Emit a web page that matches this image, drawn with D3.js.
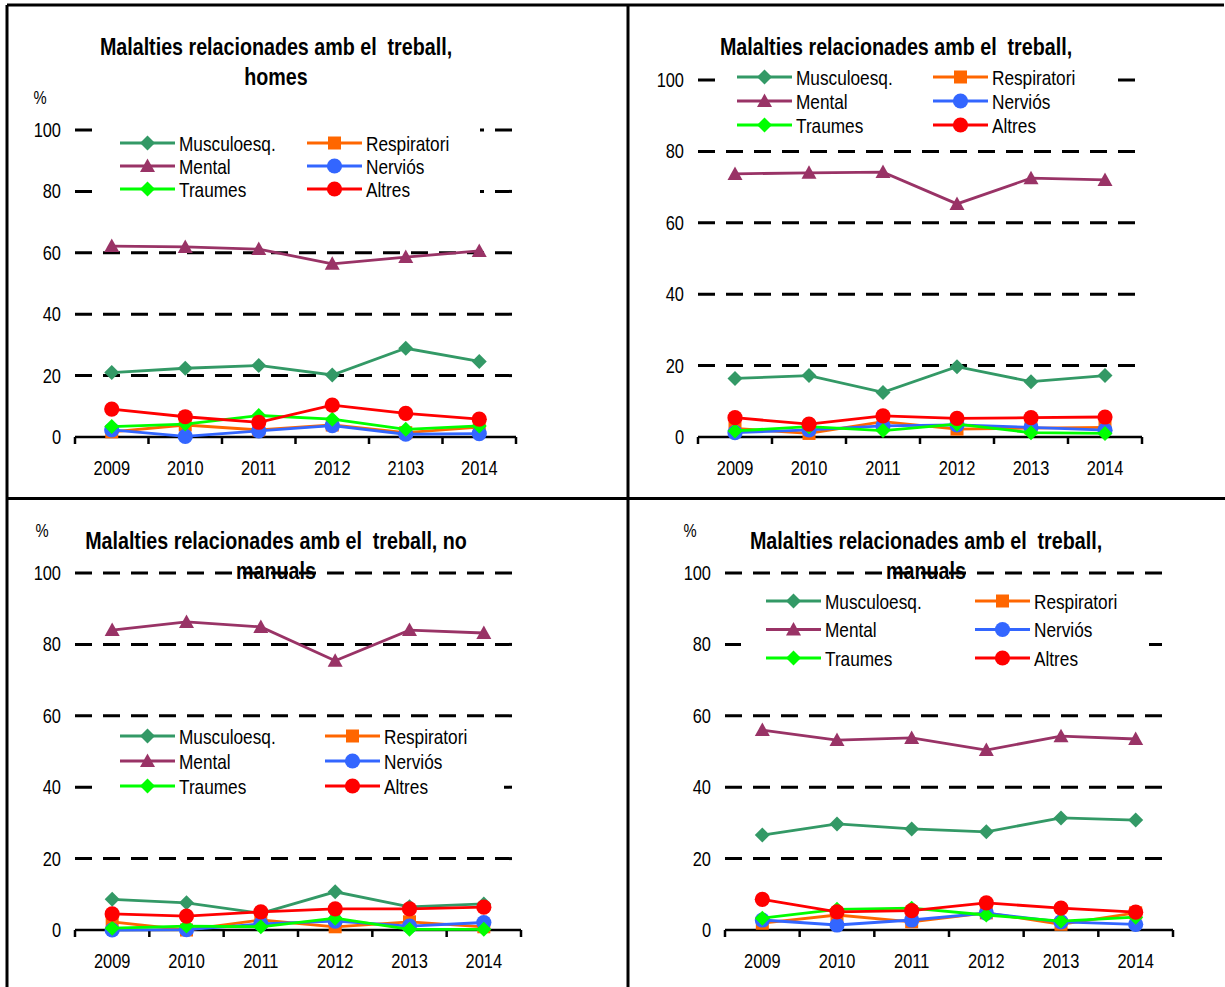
<!DOCTYPE html>
<html><head><meta charset="utf-8">
<script src="https://cdn.jsdelivr.net/npm/d3@7"></script>
<style>
html,body{margin:0;padding:0;background:#fff;}
svg{display:block;}
text{font-family:"Liberation Sans",Arial,sans-serif;fill:#000;white-space:pre;}
</style></head>
<body>
<svg id="chart" width="1225" height="987"></svg>
<script>
// ---------- DATA ----------
const seriesNames = ["Musculoesq.", "Respiratori", "Mental", "Nerviós", "Traumes", "Altres"];
const seriesColors = ["#339966", "#FF6600", "#993366", "#3366FF", "#00FF00", "#FF0000"];
const seriesShapes = ["diamond", "square", "triangle", "circle", "diamond", "circle"];
const yTicks = [0, 20, 40, 60, 80, 100];

const yearsHomes = ["2009", "2010", "2011", "2012", "2103", "2014"];
const yearsDefault = ["2009", "2010", "2011", "2012", "2013", "2014"];

// Panel 1: homes
const homesMusculoesq = [21.0, 22.4, 23.3, 20.2, 28.9, 24.6];
const homesRespiratori = [1.7, 3.9, 2.3, 3.9, 1.4, 3.2];
const homesMental = [62.2, 61.9, 61.2, 56.4, 58.6, 60.6];
const homesNervios = [2.3, 0.2, 2.0, 3.7, 0.9, 1.1];
const homesTraumes = [3.4, 4.2, 7.0, 5.8, 2.5, 3.6];
const homesAltres = [9.1, 6.6, 4.8, 10.4, 7.7, 5.8];

// Panel 2: (dones)
const donesMusculoesq = [16.4, 17.2, 12.5, 19.7, 15.5, 17.2];
const donesRespiratori = [2.4, 1.0, 4.3, 2.2, 2.5, 2.7];
const donesMental = [73.7, 74.0, 74.2, 65.3, 72.5, 72.0];
const donesNervios = [1.2, 2.0, 3.1, 3.4, 2.7, 1.9];
const donesTraumes = [1.7, 2.9, 1.8, 3.6, 1.2, 1.0];
const donesAltres = [5.4, 3.6, 5.9, 5.2, 5.4, 5.6];

// Panel 3: no manuals
const noManMusculoesq = [8.6, 7.6, 4.7, 10.7, 6.5, 7.3];
const noManRespiratori = [2.3, 0.0, 2.8, 0.9, 2.3, 0.9];
const noManMental = [84.0, 86.3, 84.9, 75.4, 84.0, 83.2];
const noManNervios = [0.0, 0.1, 1.7, 2.5, 1.1, 2.1];
const noManTraumes = [0.5, 1.1, 0.9, 3.3, 0.2, 0.2];
const noManAltres = [4.5, 3.9, 5.1, 5.9, 5.9, 6.4];

// Panel 4: manuals
const manMusculoesq = [26.6, 29.7, 28.3, 27.5, 31.4, 30.8];
const manRespiratori = [1.9, 4.2, 2.3, 4.8, 1.6, 4.8];
const manMental = [56.0, 53.2, 53.8, 50.4, 54.3, 53.5];
const manNervios = [2.8, 1.4, 2.8, 4.7, 2.3, 1.6];
const manTraumes = [3.3, 5.8, 6.1, 4.2, 2.5, 3.6];
const manAltres = [8.6, 5.1, 5.4, 7.6, 6.1, 5.0];

const titleHomes = ["Malalties relacionades amb el  treball,", "homes"];
const titleDones = ["Malalties relacionades amb el  treball,"];
const titleNoMan = ["Malalties relacionades amb el  treball, no", "manuals"];
const titleMan = ["Malalties relacionades amb el  treball,", "manuals"];

// ---------- LAYOUT ----------
const NARROW = 0.82;
const panels = [
  {years: yearsHomes, series: [homesMusculoesq, homesRespiratori, homesMental, homesNervios, homesTraumes, homesAltres],
   title: titleHomes, tx: 276, ty: 55, pct: [40, 104],
   x0: 75, x1: 516, y0: 437, y100: 130, gx1: 515, labelX: 61,
   legBg: [93, 127, 387, 74], leg: {c1: 120, c2: 307, r1: 143, dr: 23}},
  {years: yearsDefault, series: [donesMusculoesq, donesRespiratori, donesMental, donesNervios, donesTraumes, donesAltres],
   title: titleDones, tx: 896, ty: 55, pct: null,
   x0: 698, x1: 1142, y0: 437, y100: 80, gx1: 1140, labelX: 684,
   legBg: [716, 64, 391, 74], leg: {c1: 737, c2: 933, r1: 77, dr: 24}},
  {years: yearsDefault, series: [noManMusculoesq, noManRespiratori, noManMental, noManNervios, noManTraumes, noManAltres],
   title: titleNoMan, tx: 276, ty: 549, pct: [42, 537],
   x0: 75, x1: 521, y0: 930, y100: 573, gx1: 518, labelX: 61,
   legBg: [93, 722, 411, 78], leg: {c1: 120, c2: 325, r1: 736, dr: 25}},
  {years: yearsDefault, series: [manMusculoesq, manRespiratori, manMental, manNervios, manTraumes, manAltres],
   title: titleMan, tx: 926, ty: 549, pct: [690, 537],
   x0: 725, x1: 1173, y0: 930, y100: 573, gx1: 1168, labelX: 711,
   legBg: [741, 584, 408, 88], leg: {c1: 766, c2: 975, r1: 601, dr: 28.5}}
];

const svg = d3.select("#chart");

function narrow(sel) {
  sel.each(function() {
    const w = this.getComputedTextLength();
    if (w > 0) d3.select(this).attr("textLength", w * NARROW).attr("lengthAdjust", "spacingAndGlyphs");
  });
}

function markerPath(shape) {
  if (shape === "diamond") return "M0,-7.5L7.5,0L0,7.5L-7.5,0Z";
  if (shape === "square") return "M-6.5,-6.5H6.5V6.5H-6.5Z";
  if (shape === "triangle") return "M0,-7.5L7.5,6L-7.5,6Z";
  return d3.symbol().type(d3.symbolCircle).size(Math.PI * 7.6 * 7.6)();
}

panels.forEach(p => {
  const g = svg.append("g");
  const x = d3.scaleBand().domain(p.years).range([p.x0, p.x1]);
  const y = d3.scaleLinear().domain([0, 100]).range([p.y0, p.y100]);

  // gridlines
  g.selectAll("line.grid").data(yTicks.filter(t => t > 0)).join("line")
    .attr("x1", p.x0).attr("x2", p.gx1)
    .attr("y1", d => y(d)).attr("y2", d => y(d))
    .attr("stroke", "#000").attr("stroke-width", 3).attr("stroke-dasharray", "17,11");

  // y labels
  g.selectAll("text.yl").data(yTicks).join("text")
    .attr("x", p.labelX).attr("y", d => y(d)).attr("dy", "0.35em")
    .attr("text-anchor", "end").attr("font-size", 20).text(d => d).call(narrow);

  // x axis
  const xAxis = d3.axisBottom(x).tickSize(0).tickPadding(24);
  const ax = g.append("g").attr("transform", `translate(0,${p.y0})`).call(xAxis);
  ax.select(".domain").remove();
  ax.selectAll("text").attr("font-size", 20).attr("font-family", null).attr("fill", "#000").call(narrow);
  g.append("line").attr("x1", p.x0).attr("x2", p.x1).attr("y1", p.y0).attr("y2", p.y0)
    .attr("stroke", "#000").attr("stroke-width", 2.5);
  const bounds = p.years.map(d => x(d)).concat([p.x1]);
  g.selectAll("line.tk").data(bounds).join("line")
    .attr("x1", d => d).attr("x2", d => d).attr("y1", p.y0).attr("y2", p.y0 + 7)
    .attr("stroke", "#000").attr("stroke-width", 2.5);

  // title
  p.title.forEach((t, i) => {
    g.append("text").attr("x", p.tx).attr("y", p.ty + i * 30)
      .attr("text-anchor", "middle").attr("font-size", 24).attr("font-weight", "bold").text(t).call(narrow);
  });
  if (p.pct) g.append("text").attr("x", p.pct[0]).attr("y", p.pct[1]).attr("text-anchor", "middle")
    .attr("font-size", 18).text("%").call(narrow);

  // legend background
  g.append("rect").attr("x", p.legBg[0]).attr("y", p.legBg[1]).attr("width", p.legBg[2]).attr("height", p.legBg[3])
    .attr("fill", "#fff");

  // series
  const line = d3.line().x((d, i) => x(p.years[i]) + x.bandwidth() / 2).y(d => y(d));
  p.series.forEach((vals, si) => {
    const sg = g.append("g");
    sg.append("path").datum(vals).attr("d", line).attr("fill", "none")
      .attr("stroke", seriesColors[si]).attr("stroke-width", 2.8);
    sg.selectAll("path.m").data(vals).join("path")
      .attr("d", markerPath(seriesShapes[si]))
      .attr("transform", (d, i) => `translate(${x(p.years[i]) + x.bandwidth() / 2},${y(d)})`)
      .attr("fill", seriesColors[si]);
  });

  // legend
  seriesNames.forEach((name, si) => {
    const col = si % 2, row = Math.floor(si / 2);
    const lx = col === 0 ? p.leg.c1 : p.leg.c2;
    const ly = p.leg.r1 + row * p.leg.dr;
    const lg = g.append("g");
    lg.append("line").attr("x1", lx).attr("x2", lx + 55).attr("y1", ly).attr("y2", ly)
      .attr("stroke", seriesColors[si]).attr("stroke-width", 2.8);
    lg.append("path").attr("d", markerPath(seriesShapes[si]))
      .attr("transform", `translate(${lx + 27.5},${ly})`).attr("fill", seriesColors[si]);
    lg.append("text").attr("x", lx + 59).attr("y", ly).attr("dy", "0.36em")
      .attr("font-size", 21).text(name).call(narrow);
  });
});

// panel borders
const borders = [
  [7, 5, 1224, 5], [7, 5, 7, 987], [628, 5, 628, 987], [7, 498.5, 1225, 498.5]
];
svg.selectAll("line.border").data(borders).join("line")
  .attr("x1", d => d[0]).attr("y1", d => d[1]).attr("x2", d => d[2]).attr("y2", d => d[3])
  .attr("stroke", "#000").attr("stroke-width", 3);
</script>
</body></html>
